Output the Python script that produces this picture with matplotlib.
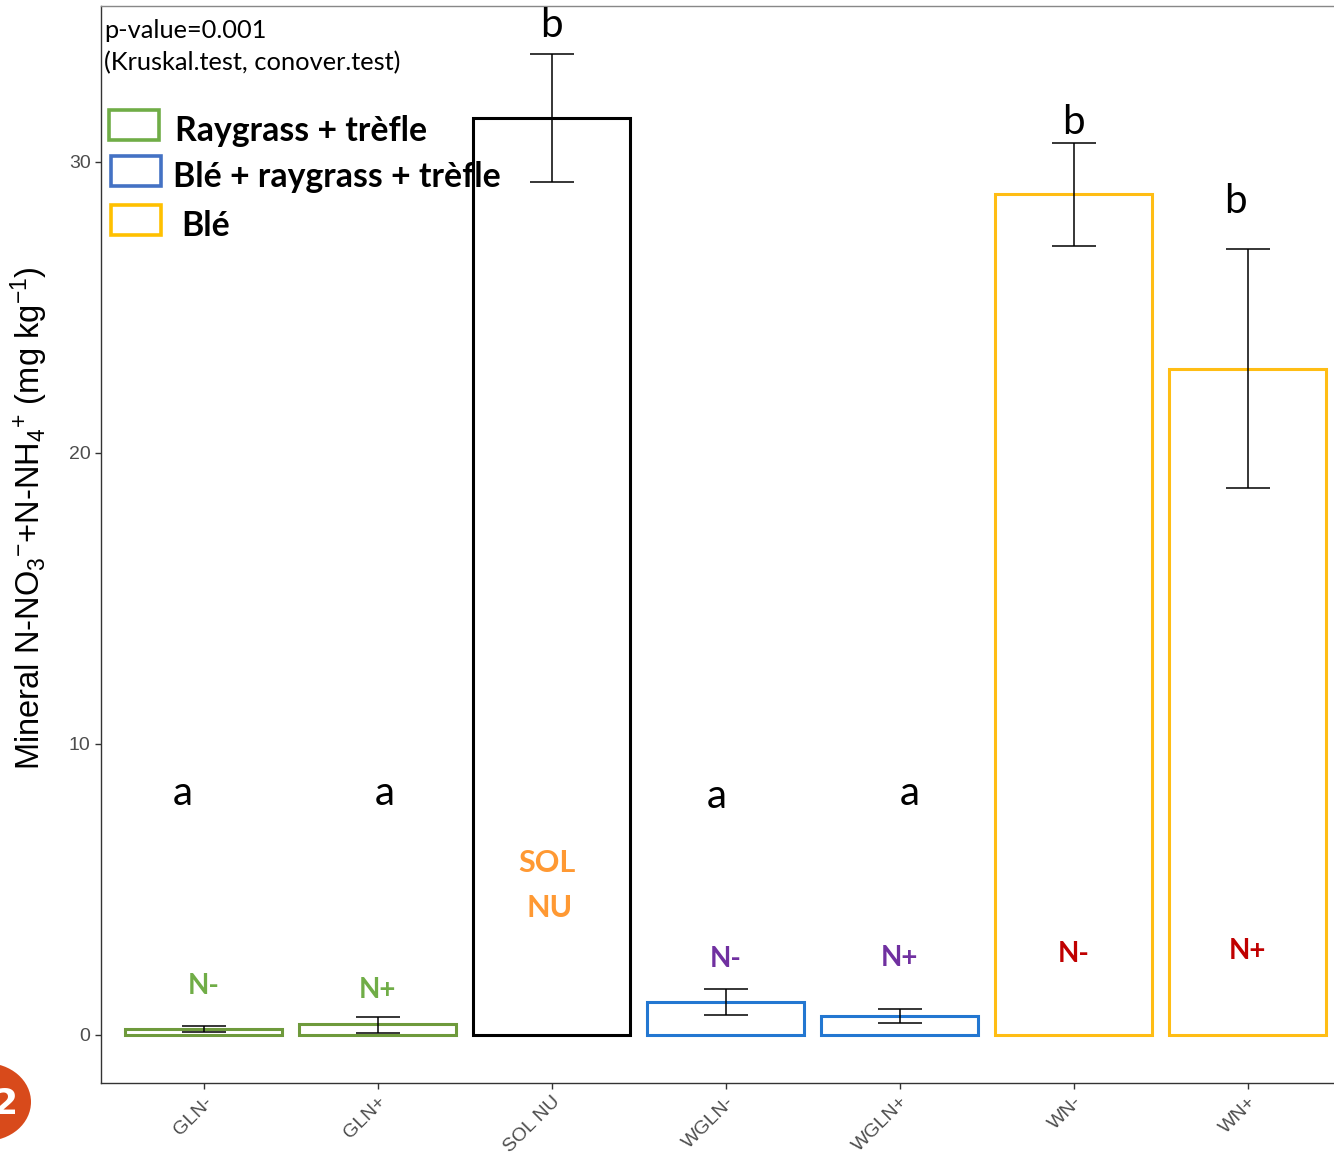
import matplotlib
matplotlib.use("Agg")
import matplotlib.pyplot as plt
from matplotlib.patches import Rectangle, Circle
import numpy as np

plt.rcParams["mathtext.fontset"] = "custom"
plt.rcParams["mathtext.rm"] = "Liberation Sans"
plt.rcParams["mathtext.it"] = "Liberation Sans:italic"
plt.rcParams["mathtext.bf"] = "Liberation Sans:bold"

categories = ["GLN-", "GLN+", "SOL NU", "WGLN-", "WGLN+", "WN-", "WN+"]
means = [0.2, 0.38, 31.5, 1.13, 0.65, 28.9, 22.9]
err_low = [0.1, 0.07, 29.3, 0.69, 0.41, 27.1, 18.8]
err_high = [0.3, 0.62, 33.7, 1.58, 0.89, 30.65, 27.0]
edge_colors = ["#6E9A3C", "#6E9A3C", "#000000", "#2377D1", "#2377D1", "#FFBD14", "#FFBD14"]
letters = ["a", "a", "b", "a", "a", "b", "b"]
letter_y = [8.3, 8.3, 34.7, 8.2, 8.3, 31.35, 28.65]
letter_dx = [-0.12, 0.04, 0.0, -0.05, 0.06, 0.0, -0.07]
inner_labels = ["N-", "N+", "SOL\nNU", "N-", "N+", "N-", "N+"]
inner_y = [1.7, 1.55, 5.9, 2.6, 2.65, 2.8, 2.9]
inner_colors = ["#70AD47", "#70AD47", "#FF9933", "#7030A0", "#7030A0", "#C00000", "#C00000"]
legend_labels = ["Raygrass + trèfle", "Blé + raygrass + trèfle", "Blé"]
legend_colors = ["#70AD47", "#4472C4", "#FFC000"]
yticks = [0, 10, 20, 30]

W, H = 1334, 1154
fig = plt.figure(figsize=(W / 100, H / 100), dpi=100)
ax = fig.add_axes([101 / W, (H - 1083) / H, (1352 - 101) / W, (1083 - 6) / H])

x = np.arange(len(categories))
ax.bar(x, means, width=0.9, facecolor="white", edgecolor=edge_colors, linewidth=2.2, zorder=2)
yerr = np.array([np.array(means) - np.array(err_low), np.array(err_high) - np.array(means)])
ax.errorbar(x, means, yerr=yerr, fmt="none", ecolor="black", elinewidth=1.1,
            capsize=16, capthick=1.1, zorder=3)

ax.set_xlim(-0.59, 6.6)
ax.set_ylim(-1.65, 35.36)
ax.set_xticks(x)
ax.set_xticklabels(categories, rotation=45, ha="right", rotation_mode="anchor",
                   fontsize=14, color="#4D4D4D", family="Liberation Sans")
ax.set_yticks(yticks)
ax.set_yticklabels([str(t) for t in yticks], fontsize=14, color="#4D4D4D", family="Liberation Sans")
ax.tick_params(axis="both", length=4, width=1, color="#333333")
for s in ["top", "right", "left", "bottom"]:
    ax.spines[s].set_color("#333333")
    ax.spines[s].set_linewidth(1)
ax.spines["top"].set_color("#888888")

ax.set_ylabel(r"Mineral N-NO$_3$$^{-}$+N-NH$_4$$^{+}$ (mg kg$^{-1}$)",
              fontsize=23.5, family="Liberation Sans", va="center")
ax.yaxis.set_label_coords(-0.0575, 0.5246)

for i in range(len(categories)):
    ax.text(x[i] + letter_dx[i], letter_y[i], letters[i], ha="center", va="center",
            fontsize=29, family="Lato", color="black", zorder=4, clip_on=False)
    if "\n" in inner_labels[i]:
        parts = inner_labels[i].split("\n")
        ax.text(x[i] - 0.03, inner_y[i], parts[0], ha="center", va="center",
                fontsize=22, family="Lato", fontweight="bold", color=inner_colors[i], zorder=4)
        ax.text(x[i] - 0.01, inner_y[i] - 1.55, parts[1], ha="center", va="center",
                fontsize=22, family="Lato", fontweight="bold", color=inner_colors[i], zorder=4)
    else:
        ax.text(x[i], inner_y[i], inner_labels[i], ha="center", va="center",
                fontsize=20, family="Lato", fontweight="bold", color=inner_colors[i], zorder=4)

# annotation text top left
fig.text(104 / W, 1 - 30 / H, "p-value=0.001", fontsize=18.3, family="Lato",
         va="center", ha="left")
fig.text(104 / W, 1 - 63 / H, "(Kruskal.test, conover.test)", fontsize=18.3, family="Lato",
         va="center", ha="left")

# custom legend
leg_y = [125, 171, 220]
leg_text_x = [175, 173, 181]
for i, lab in enumerate(legend_labels):
    yc = leg_y[i]
    fig.patches.append(Rectangle(((109 + (i > 0) * 2) / W, 1 - (yc + 15) / H), 50 / W, 30 / H,
                                 transform=fig.transFigure, facecolor="white",
                                 edgecolor=legend_colors[i], linewidth=2.6, zorder=5))
    fig.text(leg_text_x[i] / W, 1 - (yc + 6) / H, lab, fontsize=24.3, family="Lato",
             fontweight="bold", va="center", ha="left", zorder=6)

# slide artefact: orange circle bottom-left
fig.patches.append(Circle((-14 / W, 1 - 1102 / H), 45 / W, transform=fig.transFigure,
                          facecolor="#D84A1B", edgecolor="none"))
fig.text(-8 / W, 1 - 1104 / H, "2", fontsize=26, color="white", fontweight="bold",
         ha="left", va="center")

fig.savefig("out.png", dpi=100)
